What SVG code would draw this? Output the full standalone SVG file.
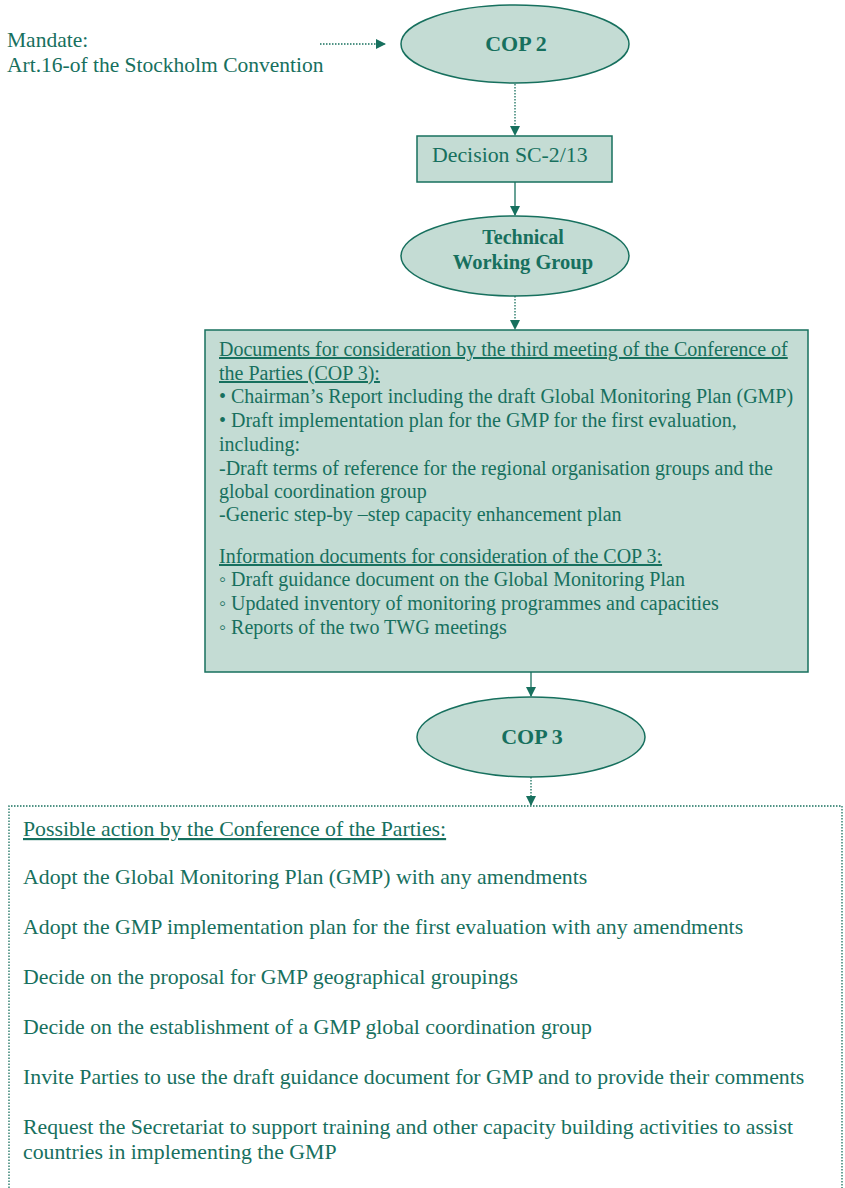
<svg xmlns="http://www.w3.org/2000/svg" width="845" height="1188" viewBox="0 0 845 1188">
<defs>
<marker id="ah" markerWidth="10" markerHeight="10" refX="9" refY="5" orient="auto" markerUnits="userSpaceOnUse">
<path d="M0,0 L10,5 L0,10 Z" fill="#17705e"/>
</marker>
</defs>
<style>
text{font-family:"Liberation Serif","Times New Roman",serif;fill:#17705e;}
.n{fill:#c4dcd4;stroke:#17705e;stroke-width:1.5;}
.t{font-size:20px;}
.m{font-size:21.5px;}
.a{font-size:21.8px;}
.b{font-size:22px;font-weight:bold;text-anchor:middle;}
.u{text-decoration:underline;}
.c{stroke:#17705e;stroke-width:1.3;fill:none;}
.d{stroke-dasharray:1.5,1.5;}
</style>
<rect width="845" height="1188" fill="#ffffff"/>
<g id="mandate">
<text class="m" x="7" y="47">Mandate:</text>
<text class="m" x="7" y="72">Art.16-of the Stockholm Convention</text>
</g>
<g id="cop2">
<ellipse class="n" cx="515" cy="44" rx="114" ry="39"/>
<text class="b" x="516" y="51">COP 2</text>
</g>
<g id="decision">
<rect class="n" x="417" y="136" width="195" height="46"/>
<text class="a" x="432" y="162">Decision SC-2/13</text>
</g>
<g id="twg">
<ellipse class="n" cx="515" cy="256" rx="114" ry="40"/>
<text class="b" x="523" y="244" style="font-size:20px">Technical</text>
<text class="b" x="523" y="269" style="font-size:20.5px">Working Group</text>
</g>
<g id="documents">
<rect class="n" x="205" y="330" width="603" height="342"/>
<text class="t" x="219" y="356"><tspan class="u">Documents for consideration by the third meeting of the Conference of</tspan></text>
<text class="t" x="219" y="380"><tspan class="u">the Parties (COP 3):</tspan></text>
<text class="t" x="219" y="403">• Chairman’s Report including the draft Global Monitoring Plan (GMP)</text>
<text class="t" x="219" y="427">• Draft implementation plan for the GMP for the first evaluation,</text>
<text class="t" x="219" y="451">including:</text>
<text class="t" x="219" y="475">-Draft terms of reference for the regional organisation groups and the</text>
<text class="t" x="219" y="498">global coordination group</text>
<text class="t" x="219" y="521">-Generic step-by –step capacity enhancement plan</text>
<text class="t" x="219" y="563"><tspan class="u">Information documents for consideration of the COP 3:</tspan></text>
<text class="t" x="219" y="586">◦ Draft guidance document on the Global Monitoring Plan</text>
<text class="t" x="219" y="610">◦ Updated inventory of monitoring programmes and capacities</text>
<text class="t" x="219" y="634">◦ Reports of the two TWG meetings</text>
</g>
<g id="cop3">
<ellipse class="n" cx="531" cy="737" rx="114" ry="40"/>
<text class="b" x="532" y="744">COP 3</text>
</g>
<g id="actions">
<path class="c d" d="M9,1188 L9,806 L842,806 L842,1188"/>
<text class="a" x="23" y="836"><tspan class="u">Possible action by the Conference of the Parties:</tspan></text>
<text class="a" x="23" y="884">Adopt the Global Monitoring Plan (GMP) with any amendments</text>
<text class="a" x="23" y="934">Adopt the GMP implementation plan for the first evaluation with any amendments</text>
<text class="a" x="23" y="984">Decide on the proposal for GMP geographical groupings</text>
<text class="a" x="23" y="1034">Decide on the establishment of a GMP global coordination group</text>
<text class="a" x="23" y="1084">Invite Parties to use the draft guidance document for GMP and to provide their comments</text>
<text class="a" x="23" y="1134">Request the Secretariat to support training and other capacity building activities to assist</text>
<text class="a" x="23" y="1159">countries in implementing the GMP</text>
</g>
<g id="connectors">
<line class="c d" x1="320" y1="44" x2="385" y2="44" marker-end="url(#ah)"/>
<line class="c d" x1="515" y1="84" x2="515" y2="135" marker-end="url(#ah)"/>
<line class="c" x1="515" y1="182" x2="515" y2="215" marker-end="url(#ah)"/>
<line class="c d" x1="515" y1="296" x2="515" y2="329" marker-end="url(#ah)"/>
<line class="c" x1="531" y1="672" x2="531" y2="696" marker-end="url(#ah)"/>
<line class="c d" x1="531" y1="777" x2="531" y2="805" marker-end="url(#ah)"/>
</g>
</svg>
